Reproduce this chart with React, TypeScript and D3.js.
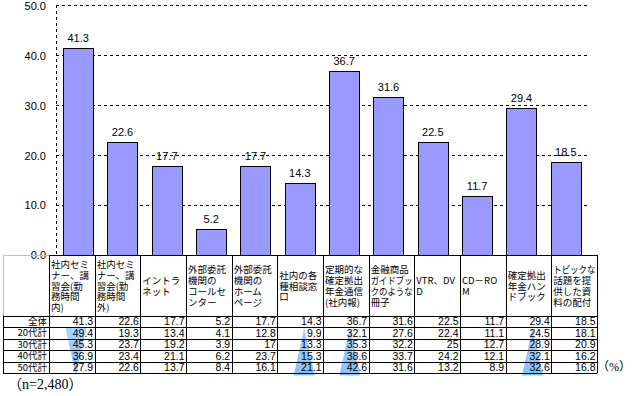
import * as React from 'react';
import {scaleBand, scaleLinear} from 'd3';

// header text of each category, as wrapped in the original table
const categories: string[][] = [
  ['社内セミ', 'ナー、講', '習会(勤', '務時間', '内)'],
  ['社内セミ', 'ナー、講', '習会(勤', '務時間', '外)'],
  ['イントラ', 'ネット'],
  ['外部委託', '機関の', 'コールセ', 'ンター'],
  ['外部委託', '機関の', 'ホーム', 'ページ'],
  ['社内の各', '種相談窓', '口'],
  ['定期的な', '確定拠出', '年金通信', '(社内報)'],
  ['金融商品', 'ガイドブッ', 'クのような', '冊子'],
  ['VTR、DV', 'D'],
  ['CD－RO', 'M'],
  ['確定拠出', '年金ハン', 'ドブック'],
  ['トピックな', '話題を提', '供した資', '料の配付'],
];

const rowLabels = ['全体', '20代計', '30代計', '40代計', '50代計'];
const total = [41.3, 22.6, 17.7, 5.2, 17.7, 14.3, 36.7, 31.6, 22.5, 11.7, 29.4, 18.5];
const age20 = [49.4, 19.3, 13.4, 4.1, 12.8, 9.9, 32.1, 27.6, 22.4, 11.1, 24.5, 18.1];
const age30 = [45.3, 23.7, 19.2, 3.9, 17, 13.3, 35.3, 32.2, 25, 12.7, 28.9, 20.9];
const age40 = [36.9, 23.4, 21.1, 6.2, 23.7, 15.3, 38.6, 33.7, 24.2, 12.1, 32.1, 16.2];
const age50 = [27.9, 22.6, 13.7, 8.4, 16.1, 21.1, 42.6, 31.6, 13.2, 8.9, 32.6, 16.8];
const tableRows = [total, age20, age30, age40, age50];

const yTicks = [0, 10, 20, 30, 40, 50];

// age trend wedges under the table (column index, direction)
const trendCols = [0, 5, 6, 10];
const trendDirs = ['down', 'up', 'up', 'up'];

const W = 634, H = 396;
const jp = '"Noto Sans CJK JP", sans-serif';
const latin = '"Liberation Sans", Arial, sans-serif';
const serif = '"Liberation Serif", "Noto Sans CJK JP", serif';

export default function App() {
  const plot = {left: 56, right: 588, top: 5, bottom: 254.5};
  const tbl = {left: 49, right: 597, outer: 3, top: 255, headBottom: 315.5, bottom: 373};

  const x = scaleBand<number>()
    .domain(total.map((_, i) => i))
    .range([plot.left, plot.right])
    .paddingInner(0.32)
    .paddingOuter(0.16);
  const y = scaleLinear().domain([0, 50]).range([plot.bottom, plot.top]);

  const col = scaleBand<number>()
    .domain(total.map((_, i) => i))
    .range([tbl.left, tbl.right]);
  const row = scaleBand<string>()
    .domain(rowLabels)
    .range([tbl.headBottom, tbl.bottom]);

  const headMid = (tbl.top + tbl.headBottom) / 2 + 1;
  const lineH = 10.9;

  return <div style={{position: 'absolute', left: 0, top: 0, width: W, height: H, background: '#fff'}}>
    <svg width={W} height={H} style={{display: 'block'}}>
      <defs>
        <linearGradient id="wedge" x1="0" x2="0" y1="0" y2="1">
          <stop offset="0" stopColor="#a8d4ff" />
          <stop offset="1" stopColor="#86c1fb" />
        </linearGradient>
      </defs>

      {/* grid + axis */}
      {yTicks.map((t) =>
        <line key={'g' + t} x1={plot.left} x2={plot.right} y1={Math.round(y(t)) + 0.5} y2={Math.round(y(t)) + 0.5}
          stroke="#000" strokeWidth={1} strokeDasharray="3,3" />)}
      <line x1={plot.left + 0.5} x2={plot.left + 0.5} y1={y(50)} y2={y(0)} stroke="#000" strokeDasharray="3,3" />
      {yTicks.map((t) =>
        <text key={'t' + t} x={46} y={y(t) + 1} dy="0.35em" textAnchor="end" fontFamily={latin} fontSize={11}>
          {t.toFixed(1)}
        </text>)}

      {/* bars */}
      {total.map((v, i) =>
        <rect key={'b' + i} x={Math.round(x(i)!) + 0.5} y={Math.round(y(v)) + 0.5}
          width={Math.round(x.bandwidth())} height={Math.round(y(0)) - Math.round(y(v))}
          fill="#9999ff" stroke="#000" strokeWidth={1} />)}
      {total.map((v, i) =>
        <text key={'v' + i} x={x(i)! + x.bandwidth() / 2} y={y(v) - 6} textAnchor="middle"
          fontFamily={latin} fontSize={11}>{v.toFixed(1)}</text>)}

      {/* trend wedges */}
      {trendCols.map((c, k) => {
        const cx = col(c)! + col.bandwidth() / 2 + 4;
        const yTop = row('20代計')! + 0.5;
        const yBot = tbl.bottom + 2.5;
        const half = 10.5;
        const pts = trendDirs[k] === 'down'
          ? `${cx - half},${yTop} ${cx + half},${yTop} ${cx},${yBot}`
          : `${cx},${yTop} ${cx + half},${yBot} ${cx - half},${yBot}`;
        return <polygon key={'w' + c} points={pts} fill="url(#wedge)" />;
      })}

      {/* table frame */}
      <line x1={tbl.outer + 0.5} x2={tbl.outer + 0.5} y1={tbl.top} y2={tbl.headBottom} stroke="#c0c0c0" />
      <line x1={tbl.outer} x2={tbl.left} y1={tbl.top + 0.5} y2={tbl.top + 0.5} stroke="#c0c0c0" />
      <line x1={tbl.left} x2={tbl.right} y1={tbl.top + 0.5} y2={tbl.top + 0.5} stroke="#000" />
      <line x1={tbl.outer + 0.5} x2={tbl.outer + 0.5} y1={tbl.headBottom} y2={tbl.bottom} stroke="#000" />
      {[tbl.headBottom, ...rowLabels.map((r) => row(r)! + row.bandwidth())].map((yy, i) =>
        <line key={'h' + i} x1={tbl.outer} x2={tbl.right} y1={Math.round(yy) + 0.5} y2={Math.round(yy) + 0.5} stroke="#000" />)}
      {[...total.map((_, i) => col(i)!), tbl.right].map((xx, i) =>
        <line key={'c' + i} x1={Math.round(xx) + 0.5} x2={Math.round(xx) + 0.5} y1={tbl.top} y2={tbl.bottom + 0.5} stroke="#000" />)}

      {/* header labels */}
      {categories.map((lines, i) => {
        const y0 = headMid - (lines.length - 1) * lineH / 2;
        return <g key={'hd' + i}>
          {lines.map((s, j) => {
            const wide = [...s].reduce((a, ch) => a + (/[\x20-\x7e]/.test(ch) ? 0.6 : 1), 0) * 9.5;
            return <text key={j} x={col(i)! + 2} y={y0 + j * lineH} dy="0.35em" fontFamily={jp} fontSize={9.5}
              textLength={wide > 42 ? 42 : undefined} lengthAdjust="spacingAndGlyphs">{s}</text>;
          })}
        </g>;
      })}

      {/* row labels and values */}
      {rowLabels.map((r, ri) =>
        <g key={'r' + r}>
          <text x={tbl.left - 2} y={row(r)! + row.bandwidth() / 2} dy="0.36em" textAnchor="end"
            fontFamily={jp} fontSize={9.5}>{r}</text>
          {tableRows[ri].map((v, ci) =>
            <text key={ci} x={col(ci)! + col.bandwidth() - 1.5} y={row(r)! + row.bandwidth() / 2} dy="0.36em"
              textAnchor="end" fontFamily={latin} fontSize={10.5}>{String(v)}</text>)}
        </g>)}

      <text x={8} y={389} fontFamily={serif} fontSize={14}>（n=2,480）</text>
      <text x={631} y={371} textAnchor="end" fontFamily={serif} fontSize={12}>（%）</text>
    </svg>
  </div>;
}
